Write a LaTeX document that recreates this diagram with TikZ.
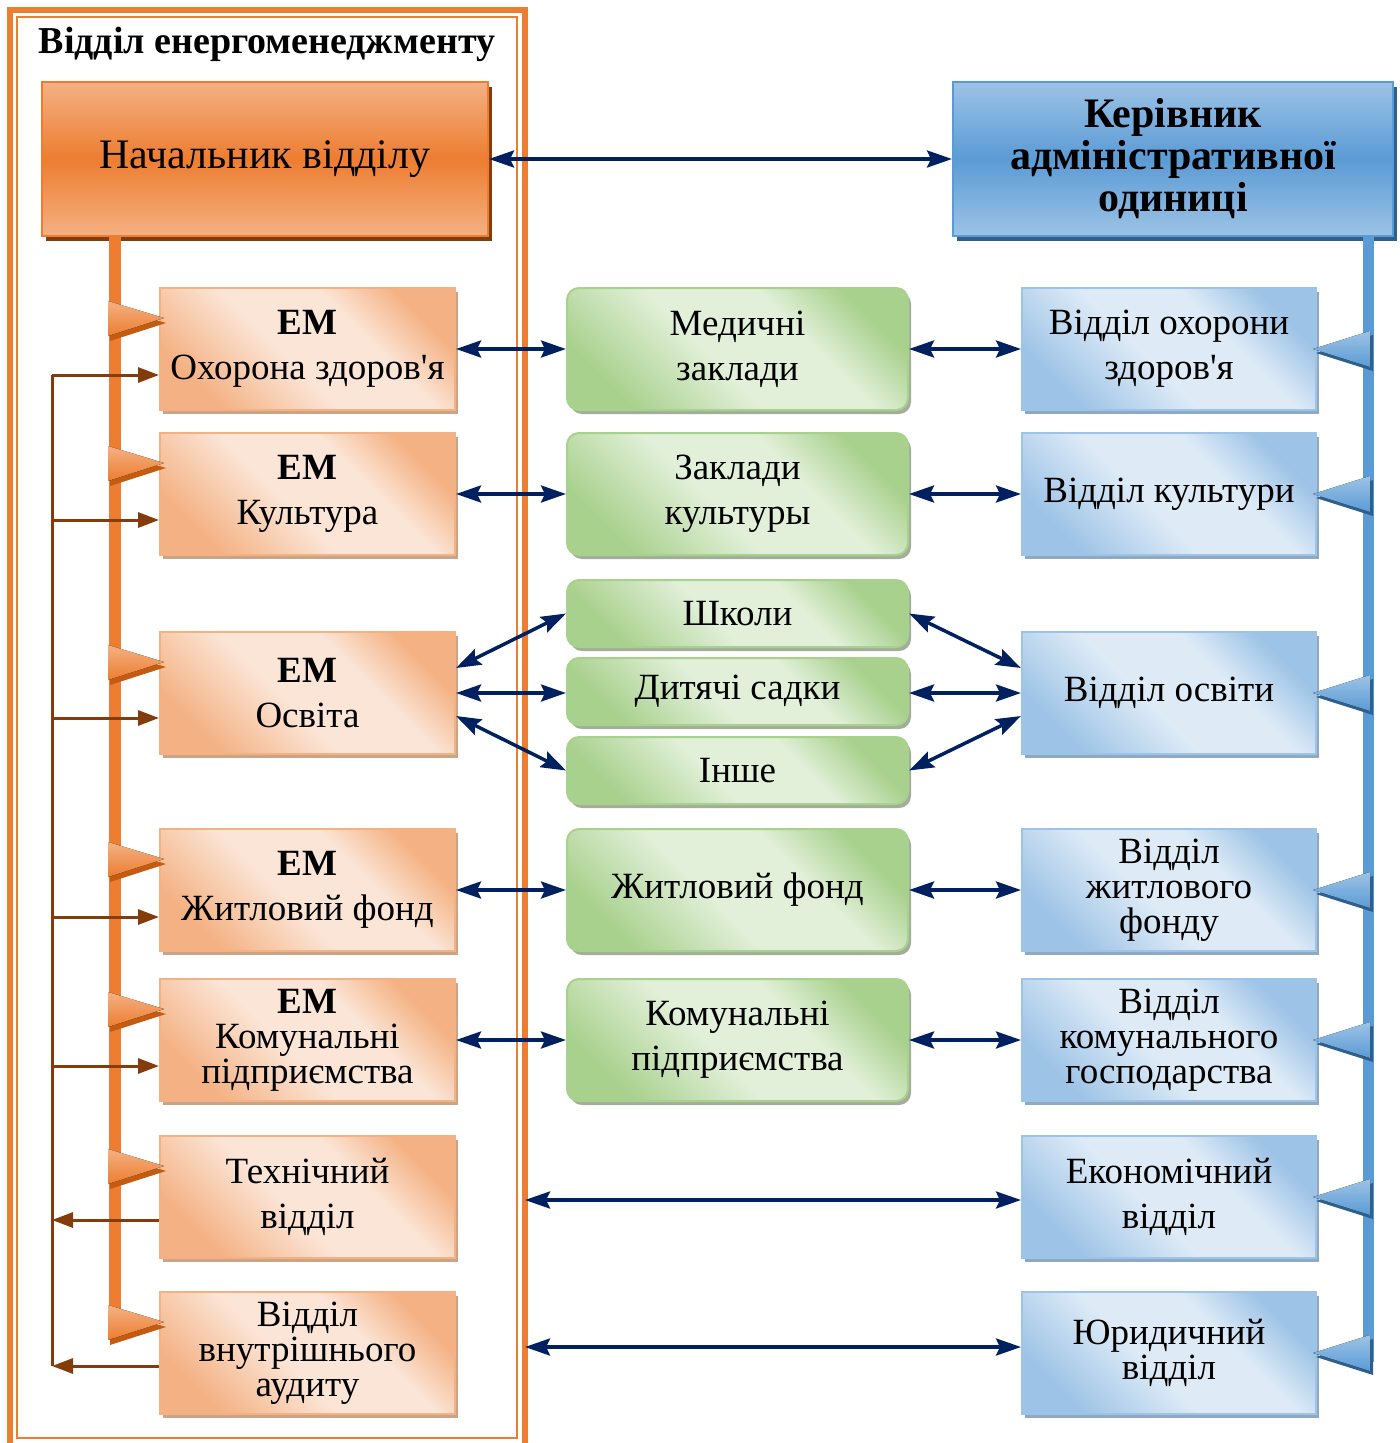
\documentclass[tikz,border=0pt]{standalone}
\usepackage{fontspec}
\setmainfont{Liberation Serif}
\usetikzlibrary{arrows.meta,shadows}

\definecolor{orgdark}{HTML}{ED7D31}
\definecolor{orglight}{HTML}{F4B183}
\definecolor{orgshadow}{HTML}{C55A11}
\definecolor{peach}{HTML}{FBE5D6}
\definecolor{peachshadow}{HTML}{C9A487}
\definecolor{brownln}{HTML}{843C0C}
\definecolor{bluedark}{HTML}{5B9BD5}
\definecolor{bluelight}{HTML}{9DC3E6}
\definecolor{bluepale}{HTML}{DEEBF7}
\definecolor{blueshadow}{HTML}{2E5F8E}
\definecolor{bluegrey}{HTML}{8EA9C1}
\definecolor{grnmid}{HTML}{A9D18E}
\definecolor{grnpale}{HTML}{E2F0D9}
\definecolor{grngrey}{HTML}{A3AE9A}
\definecolor{navy}{HTML}{002060}

\pgfdeclarehorizontalshading{peachdiag}{100bp}{color(0bp)=(orglight); color(25bp)=(orglight); color(45bp)=(peach); color(62bp)=(peach); color(75bp)=(orglight); color(100bp)=(orglight)}
\pgfdeclarehorizontalshading{bluediag}{100bp}{color(0bp)=(bluelight); color(25bp)=(bluelight); color(45bp)=(bluepale); color(62bp)=(bluepale); color(75bp)=(bluelight); color(100bp)=(bluelight)}
\pgfdeclarehorizontalshading{grndiag}{100bp}{color(0bp)=(grnmid); color(25bp)=(grnmid); color(45bp)=(grnpale); color(62bp)=(grnpale); color(75bp)=(grnmid); color(100bp)=(grnmid)}

\tikzset{
  every node/.style={font=\fontsize{37}{45}\selectfont, align=center, inner sep=0pt},
  tight/.style={font=\fontsize{37}{35}\selectfont},
  headL/.style={draw=orgdark, line width=2pt, top color=orglight, bottom color=orglight, middle color=orgdark,
    minimum width=446pt, minimum height=154pt, font=\fontsize{42}{48}\selectfont,
    drop shadow={shadow xshift=4pt, shadow yshift=-5pt, fill=brownln, opacity=1}},
  headR/.style={draw=bluedark, line width=2pt, top color=bluelight, bottom color=bluelight, middle color=bluedark,
    minimum width=440pt, minimum height=154pt, font=\fontsize{42}{42}\selectfont\bfseries,
    drop shadow={shadow xshift=4pt, shadow yshift=-5pt, fill=blueshadow, opacity=1}},
  embox/.style={draw=orglight, line width=2pt, shade, shading=peachdiag, shading angle=45,
    minimum width=295pt, minimum height=122pt,
    drop shadow={shadow xshift=3pt, shadow yshift=-4pt, fill=peachshadow, opacity=1}},
  midbox/.style={draw=grnmid, line width=2pt, rounded corners=12pt, shade, shading=grndiag, shading angle=45,
    minimum width=341pt, minimum height=122pt,
    drop shadow={shadow xshift=3pt, shadow yshift=-4pt, fill=grngrey, opacity=1}},
  smallbox/.style={midbox, minimum height=67pt},
  rbox/.style={draw=bluelight, line width=2pt, shade, shading=bluediag, shading angle=45,
    minimum width=294pt, minimum height=122pt,
    drop shadow={shadow xshift=3pt, shadow yshift=-4pt, fill=bluegrey, opacity=1}},
  link/.style={draw=navy, line width=3.5pt,
    {Stealth[length=25pt,width=17pt,inset=4pt]}-{Stealth[length=25pt,width=17pt,inset=4pt]}},
  feed/.style={draw=brownln, line width=3pt, -{Triangle[length=21pt,width=15pt]}}
}

\begin{document}
\begin{tikzpicture}[x=1pt,y=-1pt]
\useasboundingbox (0,0) rectangle (1400,1443);

% frame of the department
\draw[orgdark, line width=6pt] (10,10) rectangle (525,1452);
\draw[orgdark, line width=2pt] (17,17) rectangle (517,1438);
\node[font=\fontsize{38}{42}\selectfont\bfseries] (dept) at (267,44) {Відділ енергоменеджменту};

% heads
\node[headL] (chief) at (265,159) {Начальник відділу};
\node[headR] (head) at (1173,159) {Керівник\\адміністративної\\одиниці};

% spines
\coordinate (spineL) at (115,1335);
\coordinate (spineR) at (1368,1362);
\draw[orgdark, line width=12pt] (chief.south -| spineL) -- (spineL);
\draw[bluedark, line width=11pt] (head.south -| spineR) -- (spineR);

% energy managers
\node[embox] (em1) at (307.5,349) {\textbf{ЕМ}\\Охорона здоров\textquotesingle я};
\node[embox] (em2) at (307.5,494) {\textbf{ЕМ}\\Культура};
\node[embox] (em3) at (307.5,693) {\textbf{ЕМ}\\Освіта};
\node[embox] (em4) at (307.5,890) {\textbf{ЕМ}\\Житловий фонд};
\node[embox,tight] (em5) at (307.5,1040) {\textbf{ЕМ}\\Комунальні\\підприємства};
\node[embox] (em6) at (307.5,1197) {Технічний\\відділ};
\node[embox,tight] (em7) at (307.5,1353) {Відділ\\внутрішнього\\аудиту};

% institutions
\node[midbox] (med) at (737.5,349) {Медичні\\заклади};
\node[midbox] (cult) at (737.5,494) {Заклади\\культуры};
\node[smallbox] (school) at (737.5,613.5) {Школи};
\node[smallbox] (kinder) at (737.5,691.5) {Дитячі садки};
\node[smallbox] (other) at (737.5,770.5) {Інше};
\node[midbox] (house) at (737.5,890) {Житловий фонд};
\node[midbox] (util) at (737.5,1040) {Комунальні\\підприємства};

% administration departments
\node[rbox] (rhealth) at (1169,349) {Відділ охорони\\здоров\textquotesingle я};
\node[rbox] (rcult) at (1169,494) {Відділ культури};
\node[rbox] (redu) at (1169,693) {Відділ освіти};
\node[rbox,tight] (rhouse) at (1169,890) {Відділ\\житлового\\фонду};
\node[rbox,tight] (rutil) at (1169,1040) {Відділ\\комунального\\господарства};
\node[rbox] (recon) at (1169,1197) {Економічний\\відділ};
\node[rbox,tight] (rlaw) at (1169,1353) {Юридичний\\відділ};

% pennants
\foreach \n in {em1,em2,em3,em4,em5,em6,em7}{
  \coordinate (tip) at ([xshift=5pt,yshift=-31pt]\n.north west);
  \fill[orgshadow] ([shift={(2,5)}]tip) -- ++(-56,-17) -- ++(0,35) -- cycle;
  \fill[top color=orglight, bottom color=orgdark] (tip) -- ++(-56,-17) -- ++(0,35) -- cycle;
}
\foreach \n in {rhealth,rcult,redu,rhouse,rutil,recon,rlaw}{
  \coordinate (tip) at ([xshift=-4pt]\n.east);
  \fill[blueshadow] ([shift={(3,4)}]tip) -- ++(57,-18) -- ++(0,36) -- cycle;
  \fill[top color=bluelight, bottom color=bluedark] (tip) -- ++(57,-18) -- ++(0,36) -- cycle;
}

% feedback lines
\coordinate (trunkTop) at (52,375);
\coordinate (trunkBot) at (52,1366);
\draw[feed,-] (trunkBot) -- (trunkTop);
\foreach \n/\dy in {em1/26,em2/26,em3/25,em4/27,em5/26}
  \draw[feed] ([yshift=-\dy pt]\n.west -| trunkTop) -- ([yshift=-\dy pt]\n.west);
\draw[feed] ([yshift=-23pt]em6.west) -- ([yshift=-23pt]em6.west -| trunkBot);
\draw[feed] ([yshift=-13pt]em7.west) -- (trunkBot);

% links
\draw[link] (chief.east) -- (head.west);
\foreach \a/\b in {em1/med,em2/cult,em4/house,em5/util,med/rhealth,cult/rcult,house/rhouse,util/rutil}
  \draw[link] (\a.east) -- (\b.west);
\draw[link] ([yshift=25pt]em3.east) -- (school.west);
\draw[link] (em3.east) -- (em3.east -| kinder.west);
\draw[link] ([yshift=-23pt]em3.east) -- (other.west);
\draw[link] (school.east) -- ([yshift=25pt]redu.west);
\draw[link] (kinder.east |- redu.west) -- (redu.west);
\draw[link] (other.east) -- ([yshift=-23pt]redu.west);
\coordinate (frameR1) at (525,1200);
\coordinate (frameR2) at (525,1347);
\draw[link] (frameR1) -- (frameR1 -| recon.west);
\draw[link] (frameR2) -- (frameR2 -| rlaw.west);
\end{tikzpicture}
\end{document}
